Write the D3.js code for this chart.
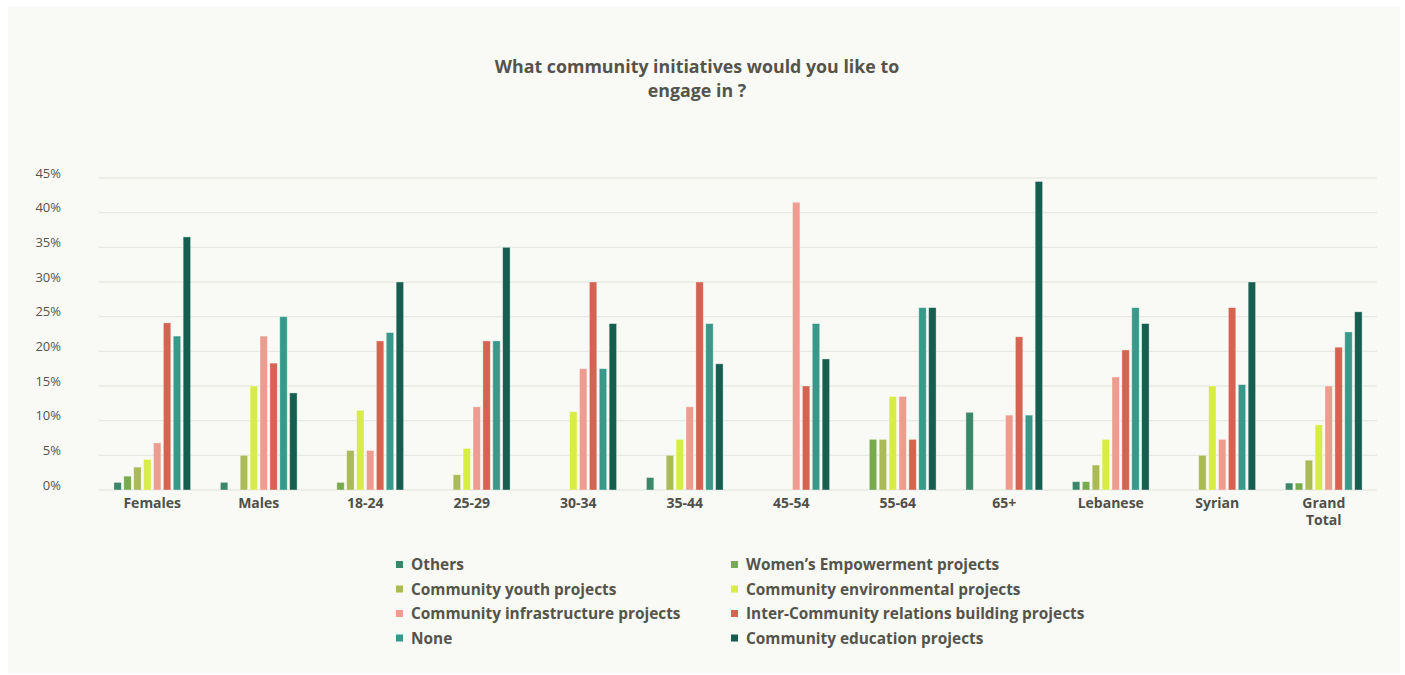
<!DOCTYPE html>
<html>
<head>
<meta charset="utf-8">
<script src="https://cdn.jsdelivr.net/npm/d3@7"></script>
<style>
  html, body { margin: 0; padding: 0; background: #ffffff; }
  svg { display: block; font-family: "Open Sans", "Noto Sans", sans-serif; }
</style>
</head>
<body>
<div class="chart"></div>
<script>
// Categories on the x axis
const groups = ["Females", "Males", "18-24", "25-29", "30-34", "35-44", "45-54", "55-64", "65+", "Lebanese", "Syrian", "Grand Total"];

// Series names (legend order)
const seriesNames = [
  "Others",
  "Women\u2019s Empowerment projects",
  "Community youth projects",
  "Community environmental projects",
  "Community infrastructure projects",
  "Inter-Community relations building projects",
  "None",
  "Community education projects"
];

const seriesColors = ["#3b8769", "#77ab4d", "#a9ba56", "#d8ec48", "#ee9b90", "#d46351", "#38998a", "#165e4f"];

// Values in % per series, one value per group
const others      = [1.1, 1.1, 0,    0,    0,    1.8,  0,    0,    11.2, 1.2,  0,    1.0];
const womens      = [2.0, 0,   1.1,  0,    0,    0,    0,    7.3,  0,    1.2,  0,    1.0];
const youth       = [3.3, 5.0, 5.7,  2.2,  0,    5.0,  0,    7.3,  0,    3.6,  5.0,  4.3];
const environment = [4.4, 15.0, 11.5, 6.0, 11.3, 7.3,  0,    13.5, 0,    7.3,  15.0, 9.4];
const infra       = [6.8, 22.2, 5.7, 12.0, 17.5, 12.0, 41.5, 13.5, 10.8, 16.3, 7.3,  15.0];
const interComm   = [24.1, 18.3, 21.5, 21.5, 30.0, 30.0, 15.0, 7.3, 22.1, 20.2, 26.3, 20.6];
const none        = [22.2, 25.0, 22.7, 21.5, 17.5, 24.0, 24.0, 26.3, 10.8, 26.3, 15.2, 22.8];
const education   = [36.5, 14.0, 30.0, 35.0, 24.0, 18.2, 18.9, 26.3, 44.5, 24.0, 30.0, 25.7];

const seriesValues = [others, womens, youth, environment, infra, interComm, none, education];

// Y axis ticks
const yTicks = [0, 5, 10, 15, 20, 25, 30, 35, 40, 45];

const chartTitle = ["What community initiatives would you like to", "engage in ?"];

// Canvas
const W = 1405, H = 675;
const plot = { left: 99, right: 1377, top: 178, bottom: 490 };

const svg = d3.select(".chart")
  .append("svg")
  .attr("width", W)
  .attr("height", H);

// Panel background
svg.append("rect")
  .attr("x", 8).attr("y", 7)
  .attr("width", 1392).attr("height", 666)
  .attr("fill", "#f9f9f5");

// Title
svg.append("text")
  .attr("x", 697)
  .attr("y", 73)
  .attr("text-anchor", "middle")
  .attr("font-size", 17.8)
  .attr("font-weight", 700)
  .attr("fill", "#54544c")
  .selectAll("tspan")
  .data(chartTitle)
  .join("tspan")
  .attr("x", 697)
  .attr("dy", (d, i) => i === 0 ? 0 : 24)
  .text(d => d);

// Scales
const x0 = d3.scaleBand()
  .domain(groups)
  .range([plot.left, plot.right])
  .paddingInner(0.28)
  .paddingOuter(0.14);

const x1 = d3.scaleBand()
  .domain(d3.range(seriesNames.length))
  .range([0, x0.bandwidth()])
  .paddingInner(0.25);

const y = d3.scaleLinear()
  .domain([0, 45])
  .range([plot.bottom, plot.top]);

// Gridlines
svg.append("g")
  .selectAll("line")
  .data(yTicks)
  .join("line")
  .attr("x1", plot.left)
  .attr("x2", plot.right)
  .attr("y1", d => y(d))
  .attr("y2", d => y(d))
  .attr("stroke", "#e7eae3")
  .attr("stroke-width", 1.3);

// Y axis labels
const yAxis = svg.append("g")
  .attr("transform", `translate(${plot.left - 38}, -5)`)
  .call(d3.axisLeft(y).tickValues(yTicks).tickFormat(d => d + "%").tickSize(0).tickPadding(0));
yAxis.select(".domain").remove();
yAxis.selectAll("text")
  .attr("font-size", 13)
  .attr("font-family", "\"Open Sans\", sans-serif")
  .attr("fill", "#55554f");

// Bars
const rows = groups.map((g, gi) => ({ group: g, values: seriesValues.map((s, si) => ({ si, v: s[gi] })) }));

svg.append("g")
  .selectAll("g")
  .data(rows)
  .join("g")
  .attr("transform", d => `translate(${x0(d.group)},0)`)
  .selectAll("rect")
  .data(d => d.values.filter(e => e.v > 0))
  .join("rect")
  .attr("x", d => x1(d.si))
  .attr("width", x1.bandwidth())
  .attr("y", d => y(d.v))
  .attr("height", d => y(0) - y(d.v))
  .attr("fill", d => seriesColors[d.si])
  .attr("stroke", "#ffffff")
  .attr("stroke-opacity", 0.45)
  .attr("stroke-width", 0.8);

// X axis labels
const xAxis = svg.append("g")
  .attr("transform", `translate(0, ${plot.bottom})`)
  .call(d3.axisBottom(x0).tickSize(0).tickPadding(0));
xAxis.select(".domain").remove();
xAxis.selectAll("text").each(function (d) {
  const t = d3.select(this);
  t.text(null)
    .attr("y", 18)
    .attr("dy", null)
    .attr("font-size", 14)
    .attr("font-weight", 700)
    .attr("font-family", "\"Open Sans\", sans-serif")
    .attr("fill", "#50504a");
  d.split(" ").forEach((w, i) => {
    t.append("tspan").attr("x", 0).attr("dy", i === 0 ? 0 : 17).text(w);
  });
});

// Legend
const legend = svg.append("g")
  .selectAll("g")
  .data(seriesNames)
  .join("g")
  .attr("transform", (d, i) => `translate(${i % 2 === 0 ? 396 : 731}, ${564 + Math.floor(i / 2) * 24.5})`);

legend.append("rect")
  .attr("x", 0)
  .attr("y", -3)
  .attr("width", 7)
  .attr("height", 7)
  .attr("fill", (d, i) => seriesColors[i]);

legend.append("text")
  .attr("x", 15)
  .attr("y", 6)
  .attr("font-size", 15.4)
  .attr("font-weight", 700)
  .attr("fill", "#54544c")
  .text(d => d);
</script>
</body>
</html>
